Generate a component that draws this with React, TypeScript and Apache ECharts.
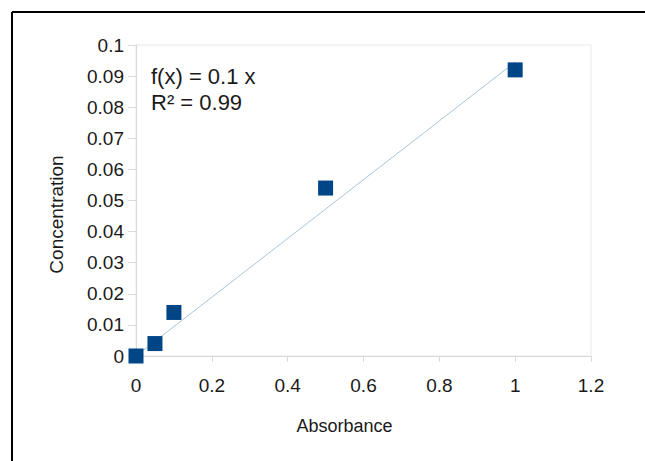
import React, { useEffect, useRef } from "react";
import * as echarts from "echarts";

const absorbance = [0, 0.05, 0.1, 0.5, 1];
const concentration = [0, 0.004, 0.014, 0.054, 0.092];
const trendX = [0, 1];
const trendY = [0, 0.0945];
const equationLines = ["f(x) = 0.1 x", "R² = 0.99"];
const xAxisName = "Absorbance";
const yAxisName = "Concentration";

const FONT = "'Liberation Sans', Arial, sans-serif";

export default function App() {
  const ref = useRef<HTMLDivElement>(null);
  useEffect(() => {
    if (!ref.current) return;
    document.body.style.margin = "0";
    const chart = echarts.init(ref.current, null, { renderer: "svg" });
    const axisColor = "#d9d9d9";
    chart.setOption({
      animation: false,
      backgroundColor: "#ffffff",
      textStyle: { fontFamily: FONT },
      grid: {
        left: 136,
        right: 54,
        top: 45,
        bottom: 105,
        show: true,
        borderColor: "#e8e8e8",
        borderWidth: 1,
      },
      xAxis: {
        type: "value",
        min: 0,
        max: 1.2,
        interval: 0.2,
        name: xAxisName,
        nameLocation: "middle",
        nameGap: 61,
        nameTextStyle: {
          fontSize: 18,
          color: "#1a1a1a",
          fontFamily: FONT,
          padding: [0, 38, 0, 0],
        },
        axisLine: { show: true, lineStyle: { color: axisColor } },
        axisTick: { show: true, length: 6, lineStyle: { color: axisColor } },
        splitLine: { show: false },
        axisLabel: {
          fontSize: 19,
          color: "#1a1a1a",
          margin: 20,
          fontFamily: FONT,
          formatter: (v: number) => String(+v.toFixed(2)),
        },
      },
      yAxis: {
        type: "value",
        min: 0,
        max: 0.1,
        interval: 0.01,
        name: yAxisName,
        nameLocation: "middle",
        nameGap: 70,
        nameRotate: 90,
        nameTextStyle: {
          fontSize: 19,
          color: "#1a1a1a",
          fontFamily: FONT,
          padding: [0, 28, 0, 0],
        },
        axisLine: { show: true, lineStyle: { color: axisColor } },
        axisTick: { show: true, length: 8, lineStyle: { color: axisColor } },
        splitLine: { show: false },
        axisLabel: {
          fontSize: 19,
          color: "#1a1a1a",
          margin: 12,
          fontFamily: FONT,
          formatter: (v: number) => String(+v.toFixed(2)),
        },
      },
      series: [
        {
          type: "line",
          data: trendX.map((x, i) => [x, trendY[i]]),
          showSymbol: false,
          symbol: "none",
          lineStyle: { color: "#a9c6d8", width: 1 },
          z: 1,
        },
        {
          type: "scatter",
          data: absorbance.map((x, i) => [x, concentration[i]]),
          symbol: "rect",
          symbolSize: 15,
          itemStyle: { color: "#004586", opacity: 1 },
          z: 2,
        },
      ],
      graphic: [
        {
          type: "line",
          shape: { x1: 12, y1: 12, x2: 645, y2: 12 },
          style: { stroke: "#000", lineWidth: 2 },
        },
        {
          type: "line",
          shape: { x1: 12, y1: 12, x2: 12, y2: 461 },
          style: { stroke: "#000", lineWidth: 2 },
        },
        {
          type: "text",
          left: 151,
          top: 65,
          style: {
            text: equationLines[0],
            fontSize: 22,
            fill: "#1a1a1a",
            fontFamily: FONT,
          },
        },
        {
          type: "text",
          left: 151,
          top: 91,
          style: {
            text: equationLines[1],
            fontSize: 22,
            fill: "#1a1a1a",
            fontFamily: FONT,
          },
        },
      ],
    });
    return () => chart.dispose();
  }, []);
  return <div ref={ref} style={{ width: 645, height: 461 }} />;
}
